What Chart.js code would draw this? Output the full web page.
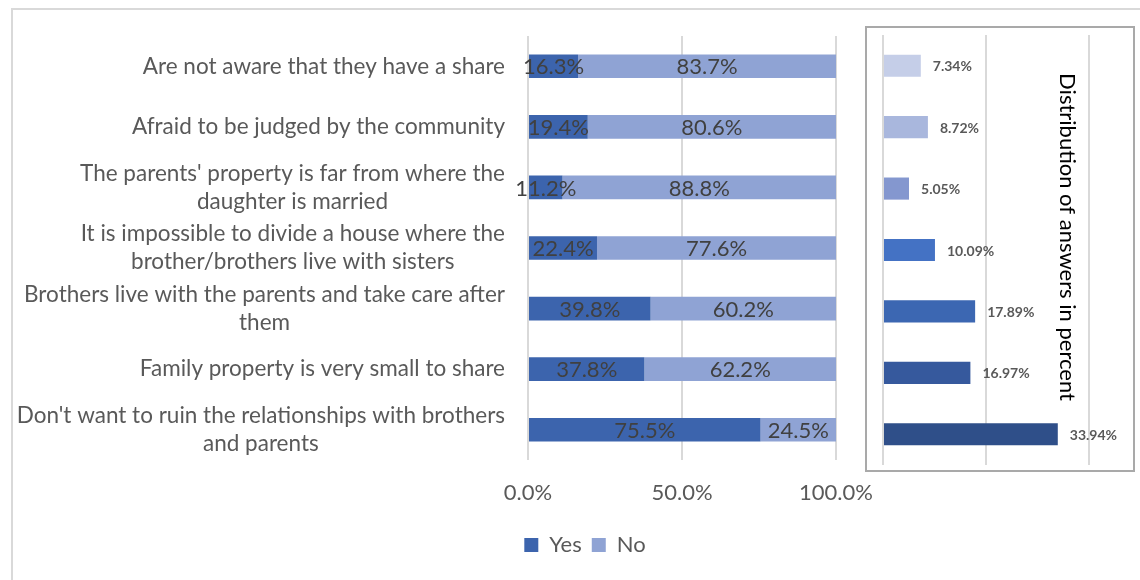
<!DOCTYPE html>
<html>
<head>
<meta charset="utf-8">
<script src="https://cdn.jsdelivr.net/npm/chart.js@4.4.0/dist/chart.umd.min.js"></script>
<style>
html, body { margin: 0; padding: 0; background: #fff; overflow: hidden; }
#wrap { position: relative; width: 1140px; height: 580px; overflow: hidden; }
#frame { position: absolute; left: 11px; top: 8px; width: 1200px; height: 600px; border: 2px solid #d9d9d9; }
#leftChart { position: absolute; left: 0; top: 0; }
#box { position: absolute; left: 865px; top: 26px; width: 266px; height: 442px; border: 2px solid #a9a9a9; background: #fff; }
#rightChart { position: absolute; left: 0; top: 0; }
</style>
</head>
<body>
<div id="wrap">
  <div id="frame"></div>
  <canvas id="leftChart" width="1170" height="580"></canvas>
  <div id="box"><canvas id="rightChart" width="266" height="442"></canvas></div>
</div>
<script>
const categories = [
    ['Are not aware that they have a share'],
    ['Afraid to be judged by the community'],
    ["The parents' property is far from where the", 'daughter is married'],
    ['It is impossible to divide a house where the', 'brother/brothers live with sisters'],
    ['Brothers live with the parents and take care after', 'them'],
    ['Family property is very small to share'],
    ["Don't want to ruin the relationships with brothers", 'and parents']
]
const yesValues = [16.3, 19.4, 11.2, 22.4, 39.8, 37.8, 75.5]
const noValues = [83.7, 80.6, 88.8, 77.6, 60.2, 62.2, 24.5]
const xTickLabels = ['0.0%', '50.0%', '100.0%']
const shareValues = [7.34, 8.72, 5.05, 10.09, 17.89, 16.97, 33.94]
const shareTitle = 'Distribution of answers in percent'

const FONT = 'Lato'
const shareColors = ['#c5cee8', '#a9b7dd', '#8497cf', '#4472c4', '#3c67b2', '#36599d', '#2f4f89']

// category text: block right-aligned, lines centred inside the block (like Excel)
const categoryLabels = {
    id: 'categoryLabels',
    afterDraw(chart) {
        const { ctx } = chart
        const y = chart.scales.y
        const right = y.right - 23
        const lineH = 28
        ctx.save()
        ctx.font = `22.5px ${FONT}`
        ctx.fillStyle = '#595959'
        ctx.textAlign = 'center'
        ctx.textBaseline = 'middle'
        categories.forEach((lines, i) => {
            const yc = y.getPixelForTick(i)
            const w = Math.max(...lines.map(l => ctx.measureText(l).width))
            const cx = right - w / 2
            lines.forEach((l, j) => {
                ctx.fillText(l, cx, yc + (j - (lines.length - 1) / 2) * lineH)
            })
        })
        ctx.restore()
    }
}

const segmentLabels = {
    id: 'segmentLabels',
    afterDatasetsDraw(chart) {
        const { ctx } = chart
        ctx.save()
        ctx.font = `22px ${FONT}`
        ctx.fillStyle = '#404040'
        ctx.textAlign = 'center'
        ctx.textBaseline = 'middle'
        chart.data.datasets.forEach((ds, di) => {
            chart.getDatasetMeta(di).data.forEach((bar, i) => {
                ctx.fillText(ds.data[i].toFixed(1) + '%', (bar.x + bar.base) / 2, bar.y + 1)
            })
        })
        ctx.restore()
    }
}

new Chart(document.getElementById('leftChart'), {
    type: 'bar',
    data: {
        labels: categories,
        datasets: [
            { label: 'Yes', data: yesValues, backgroundColor: '#3c64ad' },
            { label: 'No', data: noValues, backgroundColor: '#8fa3d4' }
        ]
    },
    options: {
        indexAxis: 'y',
        responsive: false,
        animation: false,
        categoryPercentage: 1,
        barPercentage: 0.39,
        layout: { padding: { left: 0, right: 0, top: 36, bottom: 14 } },
        plugins: {
            legend: {
                position: 'bottom',
                labels: {
                    boxWidth: 14,
                    boxHeight: 14,
                    padding: 10,
                    color: '#595959',
                    font: { family: FONT, size: 22 }
                }
            },
            tooltip: { enabled: false }
        },
        scales: {
            x: {
                stacked: true,
                min: 0,
                max: 100,
                ticks: {
                    stepSize: 50,
                    color: '#595959',
                    font: { family: FONT, size: 22 },
                    padding: 20,
                    callback: (v, i) => xTickLabels[i]
                },
                grid: { color: '#d9d9d9', lineWidth: 2, drawTicks: false },
                border: { display: false },
                afterFit: s => { s.height = 64 }
            },
            y: {
                stacked: true,
                ticks: { display: false },
                grid: { display: false },
                border: { display: false },
                afterFit: s => { s.width = 528 }
            },
            // empty space on the right so the legend centres under the whole figure
            spacer: {
                type: 'linear',
                axis: 'y',
                position: 'right',
                ticks: { display: false },
                grid: { display: false },
                border: { display: false },
                afterFit: s => { s.width = 1170 - 836 }
            }
        }
    },
    plugins: [categoryLabels, segmentLabels]
})

const shareExtras = {
    id: 'shareExtras',
    afterDatasetsDraw(chart) {
        const { ctx } = chart
        ctx.save()
        ctx.font = `bold 14px ${FONT}`
        ctx.fillStyle = '#595959'
        ctx.textAlign = 'left'
        ctx.textBaseline = 'middle'
        chart.getDatasetMeta(0).data.forEach((bar, i) => {
            ctx.fillText(shareValues[i].toFixed(2) + '%', bar.x + 12, bar.y + 1)
        })
        ctx.translate(200, 209)
        ctx.rotate(Math.PI / 2)
        ctx.font = `22px ${FONT}`
        ctx.fillStyle = '#000'
        ctx.textAlign = 'center'
        ctx.fillText(shareTitle, 0, 0)
        ctx.restore()
    }
}

new Chart(document.getElementById('rightChart'), {
    type: 'bar',
    data: {
        labels: categories.map(c => c.join(' ')),
        datasets: [{ data: shareValues, backgroundColor: shareColors }]
    },
    options: {
        indexAxis: 'y',
        responsive: false,
        animation: false,
        categoryPercentage: 1,
        barPercentage: 0.36,
        layout: { padding: { left: 16, right: 44, top: 7, bottom: 5 } },
        plugins: { legend: { display: false }, tooltip: { enabled: false } },
        scales: {
            x: {
                min: 0,
                max: 40,
                ticks: { display: false, stepSize: 20 },
                grid: { color: '#d9d9d9', lineWidth: 2, drawTicks: false },
                border: { display: false },
                afterFit: s => { s.height = 0 }
            },
            y: { display: false }
        }
    },
    plugins: [shareExtras]
})
</script>
</body>
</html>
